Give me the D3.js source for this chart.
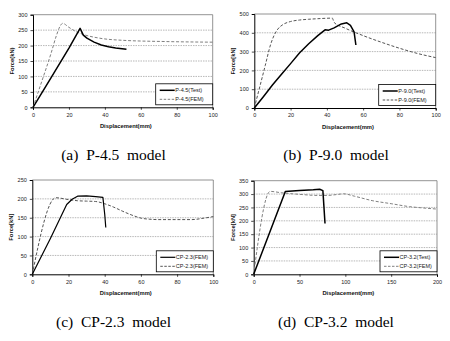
<!DOCTYPE html>
<html><head><meta charset="utf-8">
<script src="https://cdn.jsdelivr.net/npm/d3@7"></script>
<style>body{margin:0;background:#fff}svg{display:block}</style>
</head><body>
<svg id="c" width="450" height="341"></svg>
<script>
// ---- data ----
const p45Test = [[0,0],[10,95],[20,192],[26.2,256],[27,246],[28,234],[30,224],[34,211],[38,202],[42,196],[46,192],[52,188]];
const p45Fem  = [[0,0],[5,86],[10,174],[13,232],[15,262],[16.5,272],[20,259],[24,245],[28,236],[37,224],[50,217],[74,213],[100,211]];
const p90Test = [[0,0],[5,60],[10,122],[15,180],[20,236],[25,294],[30,342],[35,385],[39,416],[41,414],[44,426],[48,447],[51,453],[53,440],[55,405],[56,335]];
const p90Fem  = [[0,0],[3,112],[6,225],[9,338],[11,388],[13,420],[16,445],[20,460],[25,468],[30,472],[35,475],[43,478],[44,455],[50,425],[60,385],[70,350],[80,318],[90,290],[100,268]];
const cp23Test = [[0,0],[10,95],[19,185],[22,199],[25,207],[30,208],[35,206],[39,204],[40,160],[40.6,124]];
const cp23Fem  = [[0,0],[13,203],[20,198],[25,195],[30,194],[35,193],[38,190],[40,187],[45,178],[50,167],[55,157],[60,149],[65,146],[70,145],[80,145],[88,145],[95,149],[100,153]];
const cp32Test = [[0,0],[34.5,310],[50,313],[65,316],[72,318],[75.5,313],[77.8,190]];
const cp32Fem  = [[0,0],[18,310],[30,305],[50,299],[70,295],[80,295],[90,298],[98,301],[110,292],[130,275],[150,264],[170,253],[185,248],[200,244]];

const xTicksA = [0,20,40,60,80,100];
const yTicksA = [0,50,100,150,200,250,300];
const yTicksB = [0,100,200,300,400,500];
const yTicksC = [0,50,100,150,200,250];
const xTicksD = [0,50,100,150,200];
const yTicksD = [0,50,100,150,200,250,300,350];

const legendA = ["P-4.5(Test)","P-4.5(FEM)"];
const legendB = ["P-9.0(Test)","P-9.0(FEM)"];
const legendC = ["CP-2.3(FEM)","CP-2.3(FEM)"];
const legendD = ["CP-3.2(Test)","CP-3.2(FEM)"];

const captions = ["(a)  P-4.5  model","(b)  P-9.0  model","(c)  CP-2.3  model","(d)  CP-3.2  model"];

// ---- drawing ----
const svg = d3.select("#c");
const panels = [
  {L:33,R:212.7,T:14.7,B:107.3, xd:[0,100], yd:[0,300], xt:xTicksA, yt:yTicksA, test:p45Test, fem:p45Fem, leg:legendA, ytitle:"Force(kN)", femColor:"#808080", cap:captions[0], capY:160, capX:113.5},
  {L:254.3,R:435.7,T:14,B:108, xd:[0,100], yd:[0,500], xt:xTicksA, yt:yTicksB, test:p90Test, fem:p90Fem, leg:legendB, ytitle:"Force[kN]", femColor:"#555", cap:captions[1], capY:160, capX:336},
  {L:32.3,R:213.3,T:180,B:274.3, xd:[0,100], yd:[0,250], xt:xTicksA, yt:yTicksC, test:cp23Test, fem:cp23Fem, leg:legendC, ytitle:"Force[kN]", femColor:"#555", cap:captions[2], capY:326.5, capX:113.5, testW:1.2},
  {L:253.7,R:437,T:180.7,B:274.3, xd:[0,200], yd:[0,350], xt:xTicksD, yt:yTicksD, test:cp32Test, fem:cp32Fem, leg:legendD, ytitle:"Force[kN]", femColor:"#808080", cap:captions[3], capY:326.5, capX:336}
];

const sans = "Liberation Sans, Arial, sans-serif";

panels.forEach(p => {
  const x = d3.scaleLinear().domain(p.xd).range([p.L, p.R]);
  const y = d3.scaleLinear().domain(p.yd).range([p.B, p.T]);
  const g = svg.append("g");

  // grid
  g.selectAll(".grid").data(p.yt.filter(v => v !== p.yd[0] && v !== p.yd[1])).enter()
    .append("line")
    .attr("x1", p.L).attr("x2", p.R)
    .attr("y1", d => y(d)).attr("y2", d => y(d))
    .attr("stroke", "#9a9a9a").attr("stroke-width", 0.7)
    .attr("stroke-dasharray", "1.5,1");

  // frame (top/right)
  g.append("path")
    .attr("d", `M${p.L},${p.T}H${p.R}V${p.B}`)
    .attr("fill","none").attr("stroke","#777").attr("stroke-width",0.8);

  // axes
  const xa = g.append("g").attr("transform", `translate(0,${p.B})`)
    .call(d3.axisBottom(x).tickValues(p.xt).tickSize(2.5).tickPadding(3).tickFormat(d3.format("d")));
  const ya = g.append("g").attr("transform", `translate(${p.L},0)`)
    .call(d3.axisLeft(y).tickValues(p.yt).tickSize(2.5).tickPadding(3).tickFormat(d3.format("d")));
  [xa, ya].forEach(a => {
    a.select(".domain").attr("stroke", "#000").attr("stroke-width", 1);
    a.selectAll(".tick line").attr("stroke", "#000").attr("stroke-width", 0.7);
    a.selectAll("text").attr("font-family", sans).attr("font-size", 5.5).attr("fill", "#222");
  });

  // axis titles
  g.append("text").attr("x", (p.L + p.R)/2 + 3).attr("y", p.B + 20.5)
    .attr("text-anchor","middle").attr("font-family", sans).attr("font-weight","bold")
    .attr("font-size", 5.8).attr("fill","#111").text("Displacement(mm)");
  g.append("text")
    .attr("transform", `translate(${p.L - 19},${(p.T + p.B)/2}) rotate(-90)`)
    .attr("text-anchor","middle").attr("font-family", sans).attr("font-weight","bold")
    .attr("font-size", 5.8).attr("fill","#111").text(p.ytitle);

  const line = d3.line().x(d => x(d[0])).y(d => y(d[1])).curve(d3.curveMonotoneX);
  const lineT = d3.line().x(d => x(d[0])).y(d => y(d[1]));

  g.append("path").datum(p.fem).attr("d", line)
    .attr("fill","none").attr("stroke", p.femColor).attr("stroke-width", 1)
    .attr("stroke-dasharray", "3,1.8");
  g.append("path").datum(p.test).attr("d", lineT)
    .attr("fill","none").attr("stroke", "#000").attr("stroke-width", p.testW || 1.5)
    .attr("stroke-linejoin","round");

  // legend
  const lw = 57, lh = 21;
  const lx = p.R - lw, ly = p.B - 2.5 - lh;
  const lg = g.append("g");
  lg.append("rect").attr("x", lx).attr("y", ly).attr("width", lw).attr("height", lh)
    .attr("fill","#fff").attr("stroke","#000").attr("stroke-width",0.8);
  const rows = [
    {t: p.leg[0], c: "#000", w: p.testW || 1.5, dash: null, dy: 6.5},
    {t: p.leg[1], c: p.femColor, w: 1, dash: "2.5,1.5", dy: 15.5}
  ];
  rows.forEach(r => {
    lg.append("line").attr("x1", lx + 4).attr("x2", lx + 19)
      .attr("y1", ly + r.dy).attr("y2", ly + r.dy)
      .attr("stroke", r.c).attr("stroke-width", r.w)
      .attr("stroke-dasharray", r.dash);
    lg.append("text").attr("x", lx + 19.5).attr("y", ly + r.dy + 2)
      .attr("font-family", sans).attr("font-size", 5.5).attr("fill","#222").text(r.t);
  });

  // caption
  svg.append("text").attr("x", p.capX).attr("y", p.capY)
    .attr("text-anchor","middle").attr("font-family","Liberation Serif, Times New Roman, serif")
    .attr("font-size", 15.5).attr("fill","#000").style("white-space","pre").text(p.cap);
});
</script>
</body></html>
